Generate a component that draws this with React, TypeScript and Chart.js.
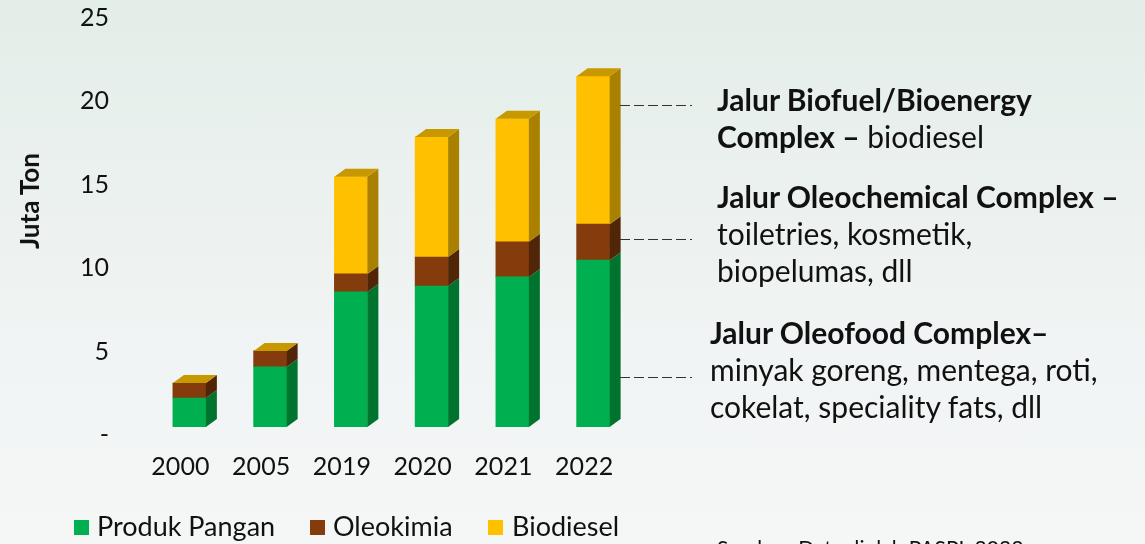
import React, { useEffect, useRef } from "react";
import { Chart, registerables } from "chart.js";

Chart.register(...registerables);

// ---- data ----
const categories = ["2000", "2005", "2019", "2020", "2021", "2022"];
const produkPangan = [1.74, 3.6, 8.1, 8.45, 9.0, 10.0];
const oleokimia = [0.9, 0.96, 1.08, 1.74, 2.1, 2.16];
const biodiesel = [0, 0, 5.82, 7.2, 7.38, 8.87];
const seriesNames = ["Produk Pangan", "Oleokimia", "Biodiesel"];
const yTickValues = [0, 5, 10, 15, 20, 25];
const yAxisTitle = "Juta Ton";
const sourceNote = "Sumber: Data diolah PASPI, 2023";

// ---- styles ----
const frontColors = ["#00b050", "#843c0c", "#ffc000"];
const sideColors = ["#00742f", "#512507", "#a98000"];
const topFaceColor = "#c79800";
const FONT = "Lato, 'Open Sans', sans-serif";
const TEXT = "#111111";
const DX = 11;
const DY = 8;

const bar3dPlugin = {
  id: "bar3d",
  afterDatasetsDraw(chart: any) {
    const ctx = chart.ctx;
    ctx.save();
    const n = chart.data.datasets.length;
    const tops: { left: number; right: number; top: number }[] = [];
    for (let d = 0; d < n; d++) {
      const meta = chart.getDatasetMeta(d);
      meta.data.forEach((el: any, i: number) => {
        const p = el.getProps(["x", "y", "base", "width"], true);
        const left = p.x - p.width / 2;
        const right = p.x + p.width / 2;
        const top = Math.min(p.y, p.base);
        const bottom = Math.max(p.y, p.base);
        if (bottom - top > 0.5) {
          ctx.fillStyle = sideColors[d];
          ctx.beginPath();
          ctx.moveTo(right, top);
          ctx.lineTo(right + DX, top - DY);
          ctx.lineTo(right + DX, bottom - DY);
          ctx.lineTo(right, bottom);
          ctx.closePath();
          ctx.fill();
        }
        if (!tops[i] || top < tops[i].top) tops[i] = { left, right, top };
      });
    }
    tops.forEach((t) => {
      if (!t) return;
      ctx.fillStyle = topFaceColor;
      ctx.beginPath();
      ctx.moveTo(t.left, t.top);
      ctx.lineTo(t.left + DX, t.top - DY);
      ctx.lineTo(t.right + DX, t.top - DY);
      ctx.lineTo(t.right, t.top);
      ctx.closePath();
      ctx.fill();
    });
    ctx.restore();
  },
};

const leaderLinesY = [105, 239, 377];
const leaderPlugin = {
  id: "leaders",
  afterDraw(chart: any) {
    const ctx = chart.ctx;
    ctx.save();
    ctx.strokeStyle = "#333333";
    ctx.lineWidth = 1;
    ctx.setLineDash([10, 4]);
    leaderLinesY.forEach((y) => {
      ctx.beginPath();
      ctx.moveTo(620, y + 0.5);
      ctx.lineTo(692, y + 0.5);
      ctx.stroke();
    });
    ctx.restore();
  },
};

function ChartCanvas() {
  const ref = useRef<HTMLCanvasElement | null>(null);
  useEffect(() => {
    if (!ref.current) return;
    const seriesValues = [produkPangan, oleokimia, biodiesel];
    const chart = new Chart(ref.current, {
      type: "bar",
      data: {
        labels: categories,
        datasets: seriesValues.map((vals, i) => ({
          label: seriesNames[i],
          data: vals,
          backgroundColor: frontColors[i],
          borderWidth: 0,
          barThickness: 33,
        })),
      },
      options: {
        animation: false,
        responsive: false,
        maintainAspectRatio: false,
        layout: { padding: { left: 0, top: 10, right: 511.5, bottom: 0 } },
        plugins: { legend: { display: false }, tooltip: { enabled: false } },
        scales: {
          x: {
            stacked: true,
            grid: { display: false, drawTicks: false },
            border: { display: false },
            ticks: {
              color: TEXT,
              font: { family: FONT, size: 25 },
              padding: 25,
              labelOffset: -9,
              maxRotation: 0,
              autoSkip: false,
            },
            afterFit(scale: any) {
              scale.height = 117;
              scale.paddingLeft = 0;
              scale.paddingRight = 0;
            },
          },
          y: {
            stacked: true,
            min: 0,
            max: 25,
            afterBuildTicks(scale: any) {
              scale.ticks = yTickValues.map((v) => ({ value: v }));
            },
            grid: { display: false, drawTicks: false },
            border: { display: false },
            ticks: {
              color: TEXT,
              font: { family: FONT, size: 25 },
              padding: 40,
              labelOffset: 8,
              callback: (v: any) => (Number(v) === 0 ? "-" : String(v)),
            },
            afterFit(scale: any) {
              scale.width = 149;
              scale.paddingTop = 0;
              scale.paddingBottom = 0;
            },
          },
        },
      },
      plugins: [bar3dPlugin, leaderPlugin],
    });
    return () => chart.destroy();
  }, []);
  return (
    <canvas
      ref={ref}
      width={1145}
      height={544}
      style={{ position: "absolute", left: 0, top: 0, width: 1145, height: 544 }}
    />
  );
}

// place a line of text so that its cap-height centre sits near `center`
const textLine = (center: number, left: number, content: React.ReactNode, size = 30) => (
  <div
    style={{
      position: "absolute",
      left,
      top: center - 0.63 * size,
      fontFamily: FONT,
      fontSize: size,
      lineHeight: `${Math.round(size * 1.2)}px`,
      color: TEXT,
      whiteSpace: "nowrap",
    }}
  >
    {content}
  </div>
);

export default function App() {
  const legendItems = [
    { sq: 74, tx: 97 },
    { sq: 310, tx: 333 },
    { sq: 488, tx: 512 },
  ];
  return (
    <div
      style={{
        position: "fixed",
        left: 0,
        top: 0,
        width: 1145,
        height: 544,
        overflow: "hidden",
        background:
          "linear-gradient(180deg, #e3eee8 0%, #ebf1ef 35%, #f1f4f4 65%, #f5f7f7 100%)",
      }}
    >
      <ChartCanvas />
      {/* y-axis title */}
      <div
        style={{
          position: "absolute",
          left: 29,
          top: 201,
          transform: "translate(-50%, -50%) rotate(-90deg)",
          fontFamily: FONT,
          fontWeight: 700,
          fontSize: 26,
          lineHeight: "30px",
          color: TEXT,
          whiteSpace: "nowrap",
        }}
      >
        {yAxisTitle}
      </div>
      {/* annotations */}
      {textLine(100, 717, <b>Jalur Biofuel/Bioenergy</b>)}
      {textLine(137, 717, <><b>Complex –</b> biodiesel</>)}
      {textLine(197, 717, <b>Jalur Oleochemical Complex –</b>)}
      {textLine(234, 717, <>toiletries, kosmetik,</>)}
      {textLine(271, 717, <>biopelumas, dll</>)}
      {textLine(333, 710, <b>Jalur Oleofood Complex–</b>)}
      {textLine(370, 710, <>minyak goreng, mentega, roti,</>)}
      {textLine(407, 710, <>cokelat, speciality fats, dll</>)}
      {/* legend */}
      {legendItems.map((it, i) => (
        <React.Fragment key={i}>
          <div
            style={{
              position: "absolute",
              left: it.sq,
              top: 520,
              width: 15,
              height: 15,
              background: frontColors[i],
            }}
          />
          {textLine(527, it.tx, seriesNames[i], 27)}
        </React.Fragment>
      ))}
      {textLine(548, 717, sourceNote, 21)}
    </div>
  );
}
